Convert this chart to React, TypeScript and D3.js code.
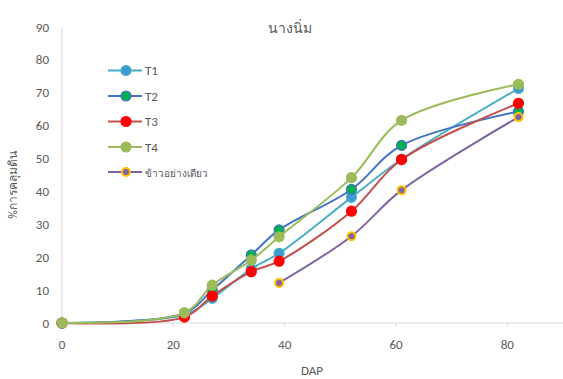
import React from "react";
import * as d3 from "d3";

const days = [0, 22, 27, 34, 39, 52, 61, 82];
const t1 = [0, 2.5, 7.5, 16.5, 21.2, 38.2, 49.8, 71.3];
const t2 = [0, 3, 10, 20.7, 28.3, 40.6, 54.0, 64.3];
const t3 = [0, 1.8, 8.2, 15.6, 18.8, 34.0, 49.7, 66.8];
const t4 = [0, 3.1, 11.5, 19.1, 26.2, 44.2, 61.6, 72.6];
const riceDays = [39, 52, 61, 82];
const rice = [12.2, 26.4, 40.4, 62.6];
const seriesNames = ["T1", "T2", "T3", "T4", "ข้าวอย่างเดียว"];
const xTicks = [0, 20, 40, 60, 80];
const yTicks = [0, 10, 20, 30, 40, 50, 60, 70, 80, 90];
const title = "นางนิ่ม";
const xTitle = "DAP";
const yTitle = "%การคลุมดิน";

const styles = [
  { line: "#4bacc6", fill: "#3d9bd4", stroke: "#4bacc6" },
  { line: "#4472c4", fill: "#00b050", stroke: "#4472c4" },
  { line: "#c0504d", fill: "#ff0000", stroke: "#ff0000" },
  { line: "#9bbb59", fill: "#9bbb59", stroke: "#9bbb59" },
  { line: "#8064a2", fill: "#8064a2", stroke: "#ffc000" },
];

export default function App() {
  const W = 563, H = 379;
  const x = d3.scaleLinear().domain([0, 90]).range([62, 563]);
  const y = d3.scaleLinear().domain([0, 90]).range([323, 27]);
  const series = [
    { name: seriesNames[0], xs: days, ys: t1 },
    { name: seriesNames[1], xs: days, ys: t2 },
    { name: seriesNames[2], xs: days, ys: t3 },
    { name: seriesNames[3], xs: days, ys: t4 },
    { name: seriesNames[4], xs: riceDays, ys: rice },
  ];
  const line = d3
    .line<[number, number]>()
    .x((d) => x(d[0]))
    .y((d) => y(d[1]))
    .curve(d3.curveCatmullRom.alpha(0.5));
  const font = "Calibri, Carlito, 'Open Sans', 'Noto Sans', sans-serif";
  const textColor = "#595959";
  const legendY = [70.5, 96, 121.5, 147, 172];
  return (
    <svg
      width={W}
      height={H}
      style={{ position: "absolute", left: 0, top: 0, background: "#fff" }}
      fontFamily={font}
    >
      <rect width={W} height={H} fill="#fff" />
      <text x={290} y={33} textAnchor="middle" fontSize={14} fill={textColor}>
        {title}
      </text>
      <line x1={x(0)} x2={x(0)} y1={y(90)} y2={y(0)} stroke="#d9d9d9" />
      <line x1={x(0)} x2={x(90)} y1={y(0)} y2={y(0)} stroke="#d9d9d9" />
      {xTicks.map((t) => (
        <g key={t}>
          <line x1={x(t)} x2={x(t)} y1={y(0)} y2={y(0) + 4} stroke="#d9d9d9" />
          <text x={x(t)} y={y(0) + 26} textAnchor="middle" fontSize={13} fill={textColor}>
            {t}
          </text>
        </g>
      ))}
      {yTicks.map((t) => (
        <text key={t} x={49} y={y(t) + 4.5} textAnchor="end" fontSize={13} fill={textColor}>
          {t}
        </text>
      ))}
      <text x={312} y={375} textAnchor="middle" fontSize={13} fill={textColor}>
        {xTitle}
      </text>
      <text
        transform={`translate(17,185) rotate(-90)`}
        textAnchor="middle"
        fontSize={12}
        fill={textColor}
      >
        {yTitle}
      </text>
      {series.map((s, i) => {
        const pts = s.xs.map((d, j) => [d, s.ys[j]] as [number, number]);
        return (
          <g key={s.name}>
            <path d={line(pts) || ""} fill="none" stroke={styles[i].line} strokeWidth={2} />
            {pts.map((p, j) => (
              <circle
                key={j}
                cx={x(p[0])}
                cy={y(p[1])}
                r={i === 4 ? 4 : 5}
                fill={styles[i].fill}
                stroke={styles[i].stroke}
                strokeWidth={i === 4 ? 2 : 1.2}
              />
            ))}
          </g>
        );
      })}
      {series.map((s, i) => (
        <g key={"lg" + i}>
          <line x1={108} x2={142} y1={legendY[i]} y2={legendY[i]} stroke={styles[i].line} strokeWidth={2} />
          <circle
            cx={126}
            cy={legendY[i]}
            r={i === 4 ? 4 : 5}
            fill={styles[i].fill}
            stroke={styles[i].stroke}
            strokeWidth={i === 4 ? 2 : 1.2}
          />
          <text x={145} y={legendY[i] + 4.5} fontSize={i === 4 ? 10 : 13} fill={textColor}>
            {s.name}
          </text>
        </g>
      ))}
    </svg>
  );
}
